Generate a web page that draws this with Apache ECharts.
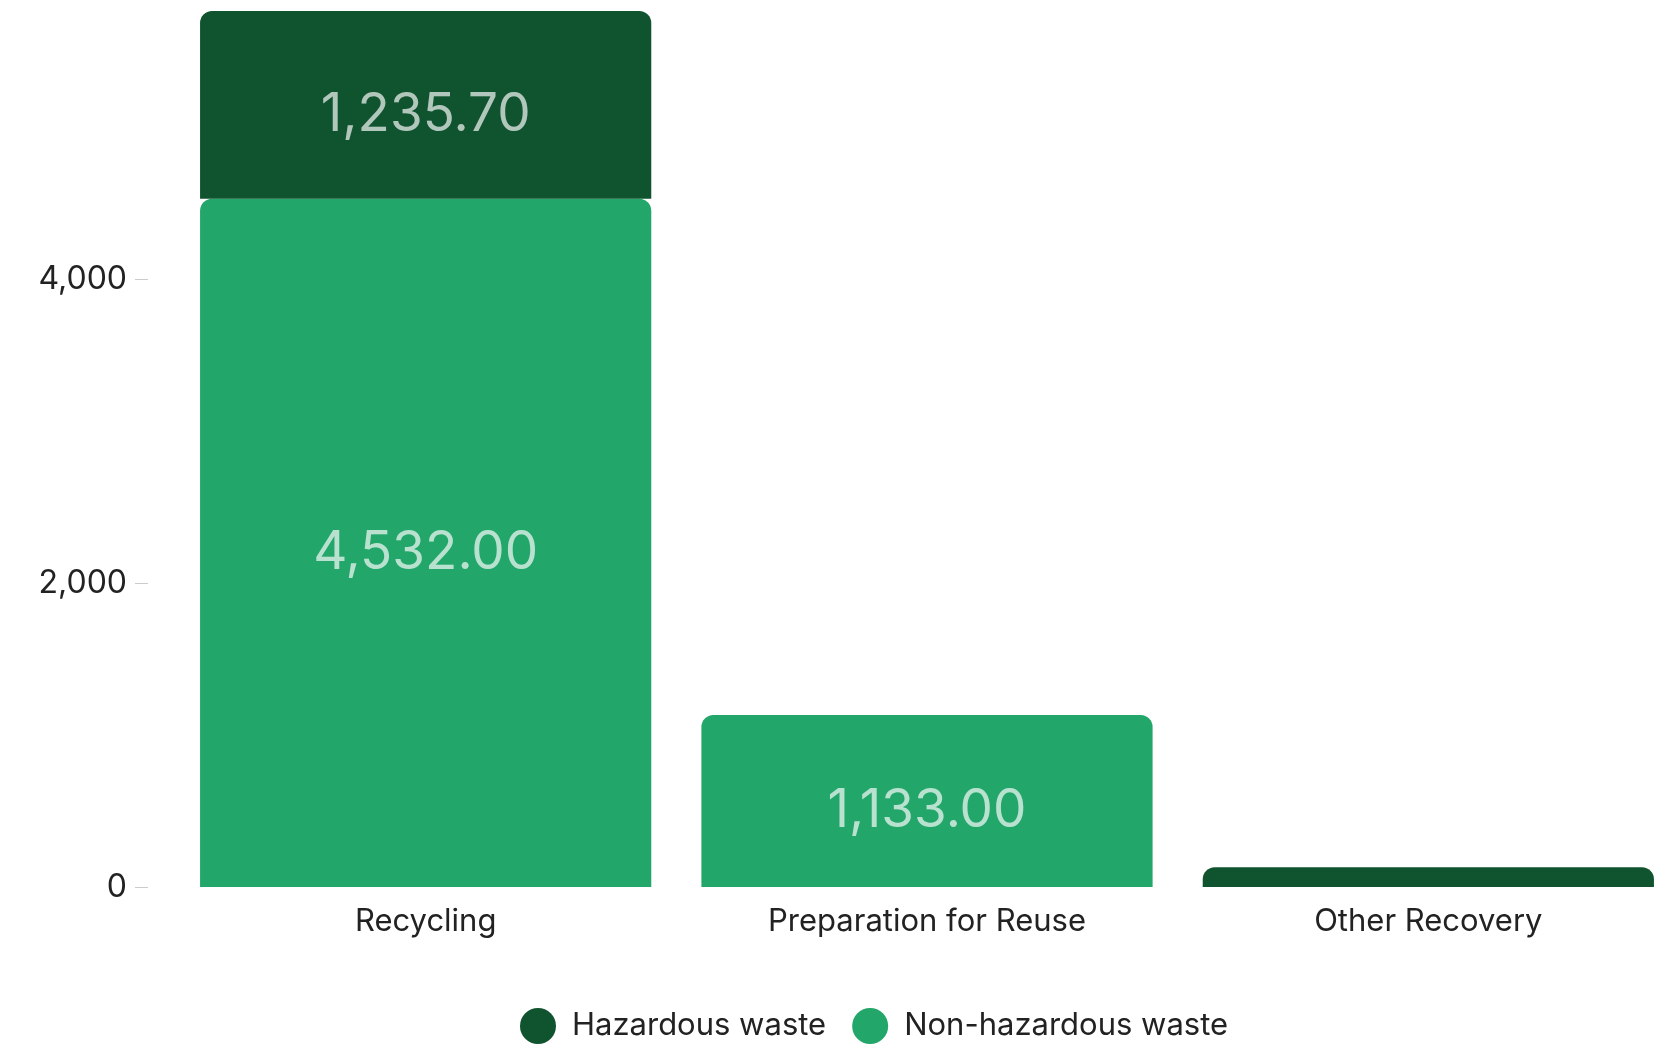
<!DOCTYPE html>
<html>
<head>
<meta charset="utf-8">
<script src="https://cdn.jsdelivr.net/npm/echarts@6/dist/echarts.min.js"></script>
<style>
  html, body { margin: 0; padding: 0; background: #ffffff; }
  #chart { width: 1679px; height: 1044px; }
</style>
</head>
<body>
<div id="chart"></div>
<script>
// Waste diverted from disposal, by recovery operation
const categories = ['Recycling', 'Preparation for Reuse', 'Other Recovery'];
const hazardous = [1235.70, null, 130];
const nonHazardous = [4532.00, 1133.00, null];
const yTicks = [0, 2000, 4000];

const FONT = 'Inter, "Noto Sans", sans-serif';
const DARK = '#10532f';
const LIGHT = '#23a66a';

const fmt = (v) => v.toLocaleString('en-US', { minimumFractionDigits: 2, maximumFractionDigits: 2 });
const valueLabel = {
  show: true,
  position: 'inside',
  offset: [0, 10],
  fontFamily: FONT,
  fontSize: 53,
  color: 'rgba(255,255,255,0.68)',
  formatter: (p) => (p.value >= 500 ? fmt(p.value) : '')
};

const chart = echarts.init(document.getElementById('chart'), null, { renderer: 'canvas' });
chart.setOption({
  animation: false,
  grid: { left: 175, right: 0, top: 11, bottom: 157, containLabel: false },
  legend: {
    top: 1003,
    left: 515,
    icon: 'circle',
    itemWidth: 36,
    itemHeight: 36,
    itemGap: 26,
    textStyle: {
      fontFamily: FONT, fontSize: 31, color: '#222',
      padding: [0, 0, 0, 11]
    },
    data: ['Hazardous waste', 'Non-hazardous waste']
  },
  xAxis: {
    type: 'category',
    data: categories,
    axisLine: { show: false },
    axisTick: { show: false },
    axisLabel: { fontFamily: FONT, fontSize: 31, color: '#222', margin: 19 }
  },
  yAxis: {
    type: 'value',
    min: 0,
    max: (e) => e.max,
    offset: 27,
    splitLine: { show: false },
    axisLine: { show: false },
    axisTick: { show: true, length: 13, lineStyle: { color: '#cccccc' }, customValues: yTicks },
    axisLabel: {
      fontFamily: FONT, fontSize: 32, color: '#222', margin: 21,
      customValues: yTicks,
      formatter: (v) => v.toLocaleString('en-US')
    }
  },
  series: [
    {
      name: 'Non-hazardous waste',
      type: 'bar',
      stack: 'waste',
      data: nonHazardous,
      barCategoryGap: '10%',
      itemStyle: { color: LIGHT, borderRadius: [12, 12, 0, 0] },
      label: valueLabel
    },
    {
      name: 'Hazardous waste',
      type: 'bar',
      stack: 'waste',
      data: hazardous,
      barCategoryGap: '10%',
      itemStyle: { color: DARK, borderRadius: [12, 12, 0, 0] },
      label: valueLabel
    }
  ]
});
</script>
</body>
</html>
